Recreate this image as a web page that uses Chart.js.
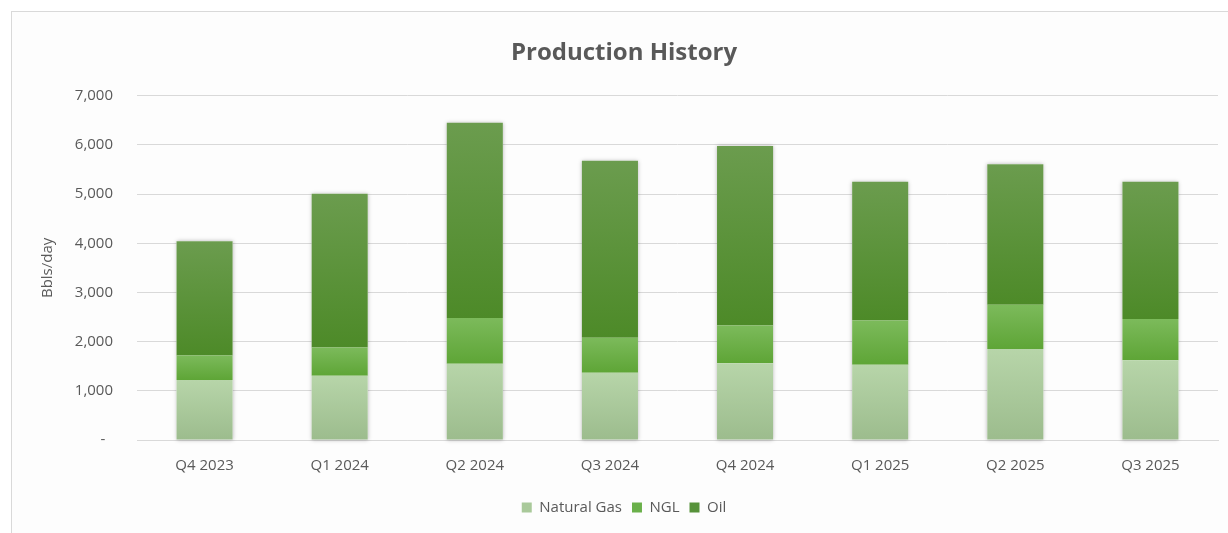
<!DOCTYPE html>
<html>
<head>
<meta charset="utf-8">
<script src="https://cdn.jsdelivr.net/npm/chart.js@4/dist/chart.umd.min.js"></script>
<style>
  html, body { margin: 0; padding: 0; background: #ffffff; }
  #wrap { position: relative; width: 1228px; height: 533px; overflow: hidden; }
  #frame { position: absolute; left: 11px; top: 11px; width: 1240px; height: 560px; border: 1px solid #d9d9d9; background: #fdfdfd; box-sizing: border-box; }
  canvas { position: absolute; left: 0; top: 0; }
</style>
</head>
<body>
<div id="wrap">
  <div id="frame"></div>
  <canvas id="c" width="1228" height="533"></canvas>
</div>
<script>
const categories = ['Q4 2023', 'Q1 2024', 'Q2 2024', 'Q3 2024', 'Q4 2024', 'Q1 2025', 'Q2 2025', 'Q3 2025'];
const naturalGas = [1220, 1305, 1550, 1370, 1560, 1530, 1850, 1620];
const ngl = [500, 575, 930, 710, 770, 900, 900, 840];
const oil = [2320, 3130, 3970, 3600, 3650, 2820, 2860, 2790];
const seriesNames = ['Natural Gas', 'NGL', 'Oil'];
const yMin = 0, yMax = 7000, yStep = 1000;

const seriesList = [naturalGas, ngl, oil];
const palette = [
  { top: '#b7d5a9', bottom: '#9cbc8d', solid: '#a9c99a' },
  { top: '#7cba5b', bottom: '#5ea536', solid: '#6ab04a' },
  { top: '#6b9c4e', bottom: '#4d8a28', solid: '#57923a' }
];

function gradientFill(dsIndex) {
  return function (ctx) {
    const p = palette[dsIndex];
    if (ctx.type !== 'data') return p.solid;
    const chart = ctx.chart;
    const y = chart.scales.y;
    if (!y || !chart.chartArea) return p.solid;
    let base = 0;
    for (let k = 0; k < dsIndex; k++) base += seriesList[k][ctx.dataIndex];
    const topVal = base + seriesList[dsIndex][ctx.dataIndex];
    const y0 = y.getPixelForValue(base);
    const y1 = y.getPixelForValue(topVal);
    if (!isFinite(y0) || !isFinite(y1) || y0 === y1) return p.solid;
    const g = chart.ctx.createLinearGradient(0, y1, 0, y0);
    g.addColorStop(0, p.top);
    g.addColorStop(1, p.bottom);
    return g;
  };
}

// soft shadow behind each full stack, positioned from the library's own bar elements
const stackShadow = {
  id: 'stackShadow',
  beforeDatasetsDraw(chart) {
    const c = chart.ctx;
    const first = chart.getDatasetMeta(0).data;
    const last = chart.getDatasetMeta(chart.data.datasets.length - 1).data;
    c.save();
    c.shadowColor = 'rgba(0,0,0,0.28)';
    c.shadowBlur = 4;
    c.shadowOffsetX = 0;
    c.shadowOffsetY = 0;
    c.fillStyle = '#ffffff';
    first.forEach((el, i) => {
      const top = last[i].y;
      const bottom = el.base;
      const w = el.width;
      c.fillRect(el.x - w / 2, top, w, bottom - top);
    });
    c.restore();
  }
};

const textColor = '#595959';
const fontFamily = '"Open Sans", "Noto Sans", sans-serif';

new Chart(document.getElementById('c'), {
  type: 'bar',
  data: {
    labels: categories,
    datasets: seriesList.map((arr, i) => ({
      label: seriesNames[i],
      data: arr,
      backgroundColor: gradientFill(i),
      borderWidth: 0,
      barPercentage: 0.415,
      categoryPercentage: 1.0
    }))
  },
  plugins: [stackShadow],
  options: {
    responsive: false,
    animation: false,
    devicePixelRatio: 1,
    layout: { padding: { left: 30, right: 10, top: 30, bottom: 8 } },
    plugins: {
      title: {
        display: true,
        text: 'Production History',
        color: textColor,
        font: { family: fontFamily, size: 24, weight: 'bold' },
        padding: { top: 9, bottom: 28 }
      },
      legend: {
        display: true,
        position: 'bottom',
        labels: {
          color: textColor,
          font: { family: fontFamily, size: 15 },
          boxWidth: 10,
          boxHeight: 10,
          padding: 10,
          generateLabels: (chart) => {
            const items = Chart.defaults.plugins.legend.labels.generateLabels(chart);
            items.forEach((it) => {
              it.fillStyle = palette[it.datasetIndex].solid;
              it.strokeStyle = palette[it.datasetIndex].solid;
              it.lineWidth = 0;
            });
            return items;
          }
        }
      },
      tooltip: { enabled: false }
    },
    scales: {
      x: {
        stacked: true,
        grid: { display: false, drawTicks: false },
        border: { display: true, color: '#d9d9d9', width: 1 },
        ticks: { color: textColor, font: { family: fontFamily, size: 15 }, padding: 17 },
        afterFit: (s) => { s.height = 50; }
      },
      y: {
        stacked: true,
        min: yMin,
        max: yMax,
        grid: { color: '#d9d9d9', drawTicks: false },
        border: { display: false },
        ticks: {
          stepSize: yStep,
          color: textColor,
          font: { family: fontFamily, size: 15 },
          padding: 24,
          callback: (v) => v === 0 ? '-  ' : Number(v).toLocaleString('en-US')
        },
        title: {
          display: true,
          text: 'Bbls/day',
          color: textColor,
          font: { family: fontFamily, size: 15 },
          padding: { top: 9, bottom: 0 }
        },
        afterFit: (s) => { s.width = 107; }
      }
    }
  }
});
</script>
</body>
</html>
